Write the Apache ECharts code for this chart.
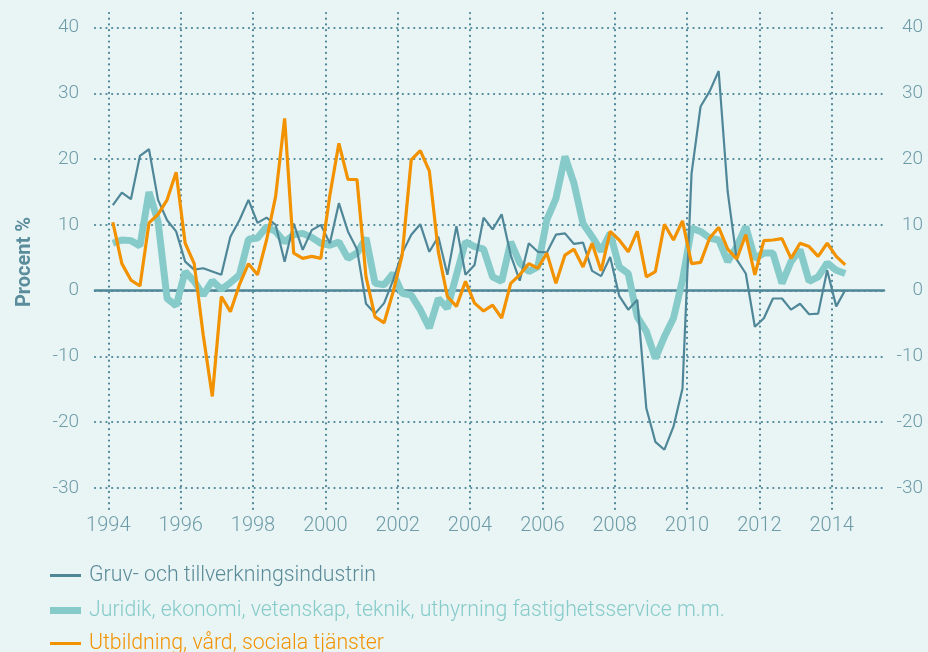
<!DOCTYPE html>
<html>
<head>
<meta charset="utf-8">
<script src="https://cdn.jsdelivr.net/npm/echarts@6/dist/echarts.min.js"></script>
<style>
  html, body { margin: 0; padding: 0; background: #e9f5f5; }
  #chart { width: 928px; height: 652px; }
</style>
</head>
<body>
<div id="chart"></div>
<script>
// quarterly series, 1994 Q1 - 2014 Q2
const seriesNames = [
  "Gruv- och tillverkningsindustrin",
  "Juridik, ekonomi, vetenskap, teknik, uthyrning fastighetsservice m.m.",
  "Utbildning, vård, sociala tjänster"
];
const gruv = [13.0, 14.9, 13.9, 20.5, 21.5, 13.8, 10.7, 9.0, 4.4, 3.2,
  3.4, 2.9, 2.4, 8.2, 10.7, 13.8, 10.3, 11.1, 10.0, 4.4,
  10.2, 6.2, 9.2, 10.0, 7.2, 13.3, 9.0, 6.3, -2.0, -3.5,
  -1.9, 1.6, 5.7, 8.5, 10.1, 5.9, 8.2, 2.4, 9.8, 2.4,
  3.9, 11.1, 9.3, 11.6, 5.4, 1.5, 7.2, 5.9, 5.8, 8.5,
  8.7, 7.1, 7.3, 3.0, 2.2, 5.1, -0.8, -2.9, -1.4, -17.9,
  -23.0, -24.2, -20.7, -14.9, 17.8, 28.0, 30.3, 33.4, 15.0, 4.7,
  2.6, -5.5, -4.2, -1.2, -1.2, -2.9, -2.0, -3.6, -3.5, 3.1,
  -2.4, 0.1];
const juridik = [7.2, 7.7, 7.6, 6.8, 15.0, 10.5, -1.2, -2.3, 2.9, 1.4,
  -0.7, 1.5, 0.2, 1.2, 2.4, 7.8, 8.0, 9.7, 9.0, 7.4,
  8.5, 8.7, 8.1, 7.2, 6.9, 7.4, 4.9, 5.7, 8.0, 1.1,
  0.9, 2.6, -0.4, -0.7, -2.9, -5.7, -1.2, -2.7, 2.4, 7.4,
  6.7, 6.3, 2.1, 1.4, 7.4, 4.2, 2.9, 3.6, 10.8, 14.0,
  20.4, 16.3, 10.2, 8.2, 6.0, 8.7, 3.6, 2.6, -4.0, -6.2,
  -10.3, -7.0, -4.2, 1.6, 9.5, 9.0, 8.0, 7.7, 4.4, 6.7,
  9.7, 4.9, 5.7, 5.7, 1.1, 4.4, 6.2, 1.4, 2.1, 4.2,
  3.1, 2.6];
const utbildning = [10.4, 4.1, 1.6, 0.7, 10.3, 11.6, 13.8, 18.0, 7.2, 4.1,
  -6.8, -16.1, -0.9, -3.2, 0.9, 4.1, 2.4, 7.7, 14.3, 26.2,
  5.7, 4.9, 5.2, 4.9, 14.5, 22.4, 16.9, 16.9, 2.1, -4.0,
  -4.9, -0.2, 5.4, 19.9, 21.3, 18.2, 5.9, -0.9, -2.4, 1.4,
  -1.9, -3.1, -2.2, -4.2, 1.1, 2.4, 4.1, 3.4, 5.7, 1.1,
  5.4, 6.3, 3.6, 7.2, 3.0, 9.0, 7.7, 5.9, 9.0, 2.1,
  2.9, 10.1, 7.7, 10.6, 4.1, 4.3, 8.0, 9.6, 6.3, 4.8,
  8.5, 2.4, 7.6, 7.7, 7.9, 4.9, 7.2, 6.7, 5.2, 7.2,
  5.2, 3.9];
const firstYear = 1994;
// mid-quarter time of each observation
const quarterTimes = gruv.map((_, i) => firstYear + 0.125 + i * 0.25);
const yTicks = [-30, -20, -10, 0, 10, 20, 30, 40];
const xTicks = [1994, 1996, 1998, 2000, 2002, 2004, 2006, 2008, 2010, 2012, 2014];

const colGruv = "#4f8798";
const colJur = "#86cbc9";
const colUtb = "#f39200";
const gridColor = "#4f8798";
const labelColor = "#6e9ba8";
const font = "Roboto, 'Liberation Sans', Arial, sans-serif";

const pairs = (vals) => vals.map((v, i) => [quarterTimes[i], v]);
const dotted = { color: gridColor, width: 2.2, type: [0.1, 5.6], cap: "round" };
const yFmt = (v) => (yTicks.includes(v) ? String(v) : "");
const xFmt = (v) => (xTicks.includes(v) ? String(v) : "");

const yCommon = {
  type: "value",
  min: -33.52,
  max: 42.22,
  minInterval: 10,
  maxInterval: 10,
  axisLine: { show: false },
  axisTick: { show: false },
};

var option = {
  backgroundColor: "#e9f5f5",
  animation: false,
  textStyle: { fontFamily: font, fontWeight: 300 },
  grid: { left: 95, right: 44, top: 13, bottom: 141, containLabel: false, outerBoundsMode: "none" },
  xAxis: [
    {
      type: "value",
      min: 1993.632,
      max: 2015.446,
      minInterval: 2,
      maxInterval: 2,
      axisLine: { show: false },
      axisTick: { show: false },
      axisLabel: {
        color: labelColor, fontSize: 20, fontFamily: font, fontWeight: 300,
        margin: 5, showMinLabel: false, showMaxLabel: false, formatter: xFmt,
      },
      splitLine: { show: true, showMinLine: false, showMaxLine: false, lineStyle: dotted },
    },
    {
      // zero line
      type: "value",
      min: 1993.632,
      max: 2015.446,
      position: "bottom",
      axisLine: { show: true, onZero: true, lineStyle: { color: gridColor, width: 2.6 } },
      axisTick: { show: false },
      axisLabel: { show: false },
      splitLine: { show: false },
    },
  ],
  yAxis: [
    Object.assign({}, yCommon, {
      position: "left",
      name: "Procent %",
      nameLocation: "middle",
      nameGap: 60,
      nameMoveOverlap: false,
      nameTextStyle: { color: "#5a8c9b", fontSize: 20, fontWeight: "bold", fontFamily: font },
      axisLabel: {
        color: labelColor, fontSize: 19, fontFamily: font, fontWeight: 300,
        margin: 16, showMinLabel: false, showMaxLabel: false, formatter: yFmt,
      },
      splitLine: { show: true, showMinLine: false, showMaxLine: false, lineStyle: dotted },
    }),
    Object.assign({}, yCommon, {
      position: "right",
      axisLabel: {
        color: labelColor, fontSize: 19, fontFamily: font, fontWeight: 300,
        align: "right", margin: 39, showMinLabel: false, showMaxLabel: false, formatter: yFmt,
      },
      splitLine: { show: false },
    }),
  ],
  legend: [
    {
      data: [seriesNames[0]], left: 50, top: 565, padding: 0, icon: "rect",
      itemWidth: 31, itemHeight: 3, selectedMode: false, itemStyle: { borderWidth: 0 },
      textStyle: { color: "#5b8b99", fontSize: 21.3, fontFamily: font, fontWeight: 300, padding: [0, 0, 0, 3] },
    },
    {
      data: [seriesNames[1]], left: 50, top: 600, padding: 0, icon: "rect",
      itemWidth: 31, itemHeight: 7, selectedMode: false, itemStyle: { borderWidth: 0 },
      textStyle: { color: colJur, fontSize: 21.3, fontFamily: font, fontWeight: 300, padding: [0, 0, 0, 3] },
    },
    {
      data: [seriesNames[2]], left: 50, top: 633, padding: 0, icon: "rect",
      itemWidth: 31, itemHeight: 3, selectedMode: false, itemStyle: { borderWidth: 0 },
      textStyle: { color: colUtb, fontSize: 21.3, fontFamily: font, fontWeight: 300, padding: [0, 0, 0, 3] },
    },
  ],
  series: [
    {
      name: seriesNames[1], type: "line", data: pairs(juridik),
      symbol: "none", showSymbol: false, color: colJur,
      lineStyle: { color: colJur, width: 7 },
    },
    {
      name: seriesNames[0], type: "line", data: pairs(gruv),
      symbol: "none", showSymbol: false, color: colGruv,
      lineStyle: { color: colGruv, width: 2.2 },
    },
    {
      name: seriesNames[2], type: "line", data: pairs(utbildning),
      symbol: "none", showSymbol: false, color: colUtb,
      lineStyle: { color: colUtb, width: 3.2 },
    },
  ],
};

var myChart = echarts.init(document.getElementById("chart"));
myChart.setOption(option);
</script>
</body>
</html>
